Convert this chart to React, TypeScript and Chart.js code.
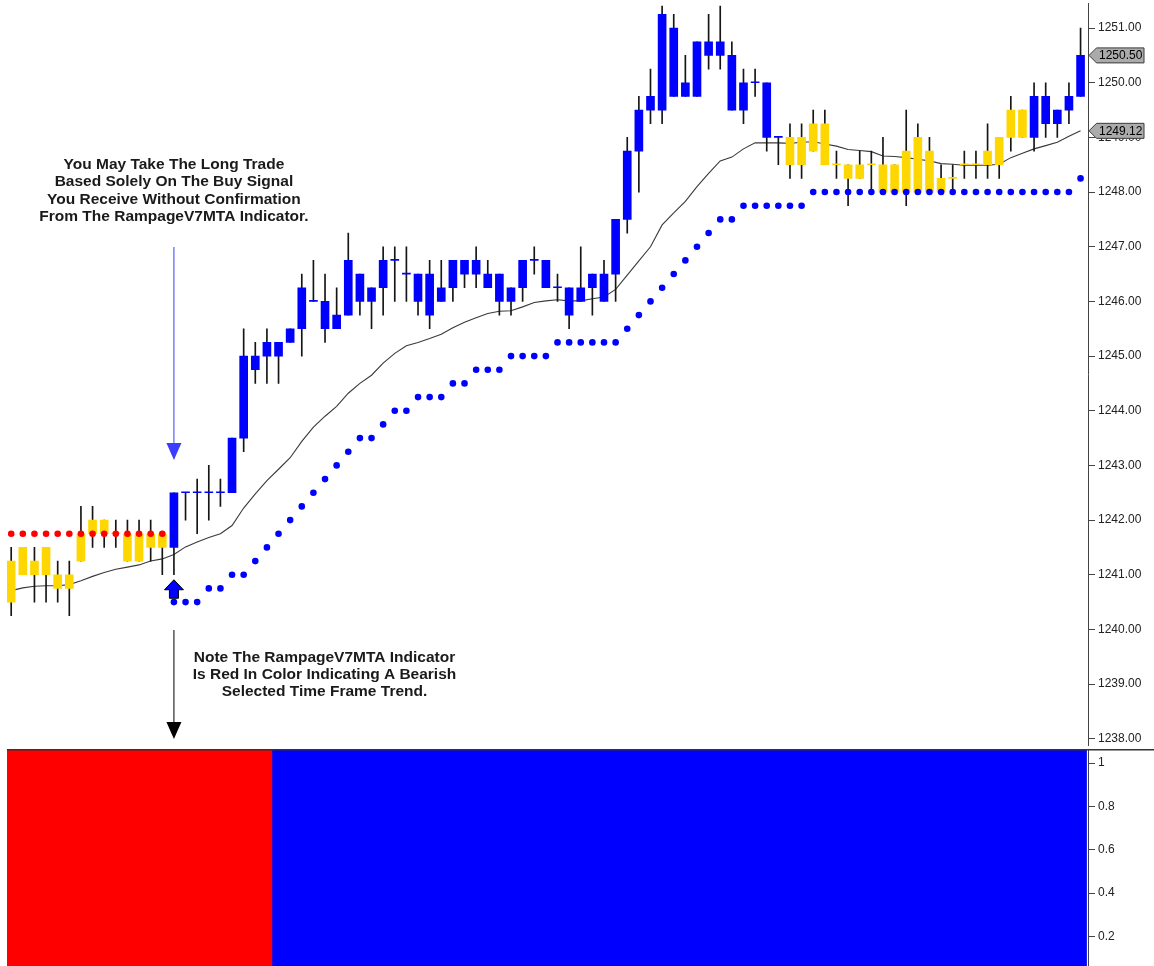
import React, { useEffect, useRef } from "react";
import { Chart, registerables } from "chart.js";

Chart.register(...registerables);

// ---------------- DATA ----------------
const candleOpen = [
  1240.5, 1241.5, 1241.0, 1241.5, 1241.0, 1240.75, 1241.25, 1241.75, 1242.0, 1241.75,
  1241.75, 1241.25, 1241.75, 1241.5, 1241.5, 1242.5, 1242.5, 1242.5, 1242.5, 1242.5,
  1243.5, 1245.0, 1245.0, 1245.25, 1245.25, 1245.5, 1246.0, 1246.0, 1245.5, 1245.75,
  1246.5, 1246.0, 1246.25, 1246.75, 1246.5, 1246.5, 1246.5, 1246.0, 1246.25, 1246.75,
  1246.5, 1246.5, 1246.5, 1246.0, 1246.25, 1246.75, 1246.75, 1246.25, 1246.25, 1246.0,
  1246.25, 1246.0, 1246.5, 1247.5, 1248.75, 1249.5, 1249.5, 1251.0, 1249.75, 1249.75,
  1250.75, 1250.5, 1250.5, 1249.5, 1250.0, 1250.0, 1249.0, 1249.0, 1248.5, 1248.75,
  1249.25, 1248.5, 1248.5, 1248.25, 1248.5, 1248.5, 1248.0, 1248.75, 1248.0, 1248.75,
  1248.0, 1248.25, 1248.5, 1248.5, 1248.5, 1248.5, 1249.0, 1249.5, 1249.0, 1249.75,
  1249.25, 1249.5, 1249.75,
];
const candleHigh = [
  1241.5, 1241.5, 1241.5, 1241.5, 1241.25, 1241.25, 1242.25, 1242.25, 1242.0, 1242.0,
  1242.0, 1242.0, 1242.0, 1241.75, 1242.5, 1242.5, 1242.75, 1243.0, 1242.75, 1243.5,
  1245.5, 1245.25, 1245.5, 1245.25, 1245.5, 1246.5, 1246.75, 1246.5, 1246.25, 1247.25,
  1246.5, 1246.25, 1247.0, 1247.0, 1247.0, 1246.5, 1246.75, 1246.75, 1246.75, 1246.75,
  1247.0, 1246.75, 1246.5, 1246.25, 1246.75, 1247.0, 1246.75, 1246.5, 1246.25, 1247.0,
  1246.5, 1246.75, 1247.5, 1249.0, 1249.75, 1250.25, 1251.4, 1251.25, 1250.5, 1250.75,
  1251.25, 1251.4, 1250.75, 1250.25, 1250.25, 1250.0, 1249.0, 1249.25, 1249.25, 1249.5,
  1249.5, 1248.75, 1248.5, 1248.75, 1248.75, 1249.0, 1248.5, 1249.5, 1249.25, 1249.0,
  1248.5, 1248.5, 1248.75, 1248.75, 1249.25, 1249.0, 1249.75, 1249.5, 1250.0, 1250.0,
  1249.5, 1250.0, 1251.0,
];
const candleLow = [
  1240.25, 1241.0, 1240.5, 1240.5, 1240.5, 1240.25, 1241.25, 1241.5, 1241.5, 1241.5,
  1241.25, 1241.25, 1241.25, 1241.0, 1241.0, 1242.0, 1241.75, 1242.0, 1242.25, 1242.5,
  1243.25, 1244.5, 1244.5, 1244.5, 1245.25, 1245.0, 1246.0, 1245.25, 1245.5, 1245.75,
  1245.75, 1245.5, 1245.75, 1246.0, 1246.0, 1245.75, 1245.5, 1246.0, 1246.0, 1246.25,
  1246.25, 1246.25, 1245.75, 1245.75, 1246.0, 1246.5, 1246.25, 1246.0, 1245.5, 1246.0,
  1245.75, 1246.0, 1246.0, 1247.25, 1248.0, 1249.25, 1249.25, 1249.75, 1249.75, 1249.75,
  1250.25, 1250.25, 1249.5, 1249.25, 1249.75, 1248.75, 1248.5, 1248.25, 1248.25, 1248.75,
  1248.5, 1248.25, 1247.75, 1248.25, 1248.0, 1248.0, 1248.0, 1247.75, 1248.0, 1248.0,
  1248.0, 1248.0, 1248.25, 1248.25, 1248.25, 1248.25, 1248.75, 1249.0, 1248.75, 1249.0,
  1249.0, 1249.25, 1249.75,
];
const candleClose = [
  1241.25, 1241.0, 1241.25, 1241.0, 1240.75, 1241.0, 1241.75, 1242.0, 1241.75, 1241.75,
  1241.25, 1241.75, 1241.5, 1241.75, 1242.5, 1242.5, 1242.5, 1242.5, 1242.5, 1243.5,
  1245.0, 1244.75, 1245.25, 1245.0, 1245.5, 1246.25, 1246.0, 1245.5, 1245.75, 1246.75,
  1246.0, 1246.25, 1246.75, 1246.75, 1246.5, 1246.0, 1245.75, 1246.25, 1246.75, 1246.5,
  1246.75, 1246.25, 1246.0, 1246.25, 1246.75, 1246.75, 1246.25, 1246.25, 1245.75, 1246.25,
  1246.5, 1246.5, 1247.5, 1248.75, 1249.5, 1249.75, 1251.25, 1249.75, 1250.0, 1250.75,
  1250.5, 1250.75, 1249.5, 1250.0, 1250.0, 1249.0, 1249.0, 1248.5, 1249.0, 1249.25,
  1248.5, 1248.5, 1248.25, 1248.5, 1248.5, 1248.0, 1248.5, 1248.0, 1249.0, 1248.0,
  1248.25, 1248.25, 1248.5, 1248.5, 1248.75, 1249.0, 1249.5, 1249.0, 1249.75, 1249.25,
  1249.5, 1249.75, 1250.5,
];
// Y = yellow (neutral) bar colour, B = blue (bullish) bar colour
const candleTone = (
  "YYYYYYYYYYYYYY" +
  "BBBBBBBBBBBBBBBBBBBBBBBBBBBBBBBBBBBBBBBBBBBBBBBBBBBBB" +
  "YYYYYYYYYYYYYYYYYYYYY" +
  "BBBBB"
).split("");

// moving average line
const maValues = [
  1240.71, 1240.76, 1240.79, 1240.8, 1240.8, 1240.82, 1240.89, 1240.97, 1241.04, 1241.1,
  1241.14, 1241.18, 1241.25, 1241.29, 1241.37, 1241.51, 1241.6, 1241.68, 1241.75, 1241.9,
  1242.22, 1242.48, 1242.72, 1242.93, 1243.14, 1243.44, 1243.7, 1243.9, 1244.08, 1244.32,
  1244.5, 1244.65, 1244.87, 1245.05, 1245.19, 1245.25, 1245.32, 1245.4, 1245.52, 1245.62,
  1245.7, 1245.78, 1245.82, 1245.83, 1245.9, 1245.98, 1246.01, 1246.03, 1246.01, 1246.01,
  1246.05, 1246.08, 1246.22, 1246.48, 1246.74, 1247.0, 1247.4, 1247.62, 1247.83, 1248.1,
  1248.34, 1248.57, 1248.64, 1248.79, 1248.9, 1248.9, 1248.9, 1248.89, 1248.91, 1248.92,
  1248.88, 1248.84, 1248.78, 1248.76, 1248.74, 1248.66, 1248.65, 1248.63, 1248.6, 1248.57,
  1248.52, 1248.51, 1248.49, 1248.49, 1248.49, 1248.51, 1248.63, 1248.71, 1248.79, 1248.85,
  1248.91, 1249.02, 1249.12,
];

// RampageV7 stop dots
const stopValues = [
  1241.75, 1241.75, 1241.75, 1241.75, 1241.75, 1241.75, 1241.75, 1241.75, 1241.75, 1241.75,
  1241.75, 1241.75, 1241.75, 1241.75, 1240.5, 1240.5, 1240.5, 1240.75, 1240.75, 1241.0,
  1241.0, 1241.25, 1241.5, 1241.75, 1242.0, 1242.25, 1242.5, 1242.75, 1243.0, 1243.25,
  1243.5, 1243.5, 1243.75, 1244.0, 1244.0, 1244.25, 1244.25, 1244.25, 1244.5, 1244.5,
  1244.75, 1244.75, 1244.75, 1245.0, 1245.0, 1245.0, 1245.0, 1245.25, 1245.25, 1245.25,
  1245.25, 1245.25, 1245.25, 1245.5, 1245.75, 1246.0, 1246.25, 1246.5, 1246.75, 1247.0,
  1247.25, 1247.5, 1247.5, 1247.75, 1247.75, 1247.75, 1247.75, 1247.75, 1247.75, 1248.0,
  1248.0, 1248.0, 1248.0, 1248.0, 1248.0, 1248.0, 1248.0, 1248.0, 1248.0, 1248.0,
  1248.0, 1248.0, 1248.0, 1248.0, 1248.0, 1248.0, 1248.0, 1248.0, 1248.0, 1248.0,
  1248.0, 1248.0, 1248.25,
];
const stopSide = ("RRRRRRRRRRRRRR" + "B".repeat(79)).split("");

// RampageV7MTA trend panel (R = bearish, B = bullish)
const mtaTrend = ("RRRRRRRRRRRRRRRRRRRRRRR" + "B".repeat(70)).split("");
const mtaLevel = 1.1;

const priceTicks = [1238, 1239, 1240, 1241, 1242, 1243, 1244, 1245, 1246, 1247, 1248, 1249, 1250, 1251];
const mtaTicks = [0.2, 0.4, 0.6, 0.8, 1];

const signalIndex = 14;
const noteTop = [
  "You May Take The Long Trade",
  "Based Solely On The Buy Signal",
  "You Receive Without Confirmation",
  "From The RampageV7MTA Indicator.",
];
const noteBottom = [
  "Note The RampageV7MTA Indicator",
  "Is Red In Color Indicating A Bearish",
  "Selected Time Frame Trend.",
];

// ---------------- LAYOUT / STYLE ----------------
const W = 1154;
const PRICE_H = 749;
const MTA_H = 217;
const X_MIN = -0.361;
const X_MAX = 92.64;
const AXIS_W = 66;
const FONT = '"Liberation Sans", Arial, Helvetica, sans-serif';
const BLUE = "#0000ff";
const YELLOW = "#ffd700";
const RED = "#ff0000";

function tickAxis(ticks: number[], fmt: (v: number) => string, min: number, max: number): any {
  return {
    type: "linear",
    position: "right",
    min,
    max,
    beginAtZero: false,
    afterBuildTicks: (s: any) => {
      s.ticks = ticks.map((v) => ({ value: v }));
    },
    afterFit: (s: any) => {
      s.width = AXIS_W;
      s.paddingTop = 0;
      s.paddingBottom = 0;
    },
    grid: { drawOnChartArea: false, drawTicks: true, tickLength: 7, color: "#444", lineWidth: 1 },
    border: { display: true, color: "#444", width: 1 },
    ticks: {
      color: "#222",
      font: { family: FONT, size: 12 },
      padding: 3,
      autoSkip: false,
      maxRotation: 0,
      callback: (v: any) => fmt(Number(v)),
    },
  };
}

const xAxis: any = { type: "linear", min: X_MIN, max: X_MAX, display: false, offset: false };

const annotationPlugin = {
  id: "annotations",
  afterDraw(chart: any) {
    const { ctx, chartArea } = chart;
    const xs = chart.scales.x;
    const ys = chart.scales.y;
    const sx = xs.getPixelForValue(signalIndex);
    ctx.save();

    // upper note
    ctx.font = `bold 15.5px ${FONT}`;
    ctx.fillStyle = "#1a1a1a";
    ctx.textAlign = "center";
    ctx.textBaseline = "alphabetic";
    noteTop.forEach((t, k) => ctx.fillText(t, sx, 168.5 + k * 17.5));

    // lower note
    noteBottom.forEach((t, k) => ctx.fillText(t, 324.5, 661.5 + k * 17.2));

    // blue pointer arrow
    ctx.strokeStyle = "#3c3cff";
    ctx.fillStyle = "#3c3cff";
    ctx.lineWidth = 1;
    ctx.beginPath();
    ctx.moveTo(sx, 247);
    ctx.lineTo(sx, 446);
    ctx.stroke();
    ctx.beginPath();
    ctx.moveTo(sx - 7.5, 443);
    ctx.lineTo(sx + 7.5, 443);
    ctx.lineTo(sx, 460);
    ctx.closePath();
    ctx.fill();

    // black pointer arrow
    ctx.strokeStyle = "#000";
    ctx.fillStyle = "#000";
    ctx.beginPath();
    ctx.moveTo(sx, 630);
    ctx.lineTo(sx, 724);
    ctx.stroke();
    ctx.beginPath();
    ctx.moveTo(sx - 7.5, 722);
    ctx.lineTo(sx + 7.5, 722);
    ctx.lineTo(sx, 739);
    ctx.closePath();
    ctx.fill();

    // buy-signal arrow under the signal bar
    const top = ys.getPixelForValue(candleLow[signalIndex]) + 5;
    ctx.beginPath();
    ctx.moveTo(sx, top);
    ctx.lineTo(sx + 9.5, top + 10);
    ctx.lineTo(sx + 4.5, top + 10);
    ctx.lineTo(sx + 4.5, top + 18.5);
    ctx.lineTo(sx - 4.5, top + 18.5);
    ctx.lineTo(sx - 4.5, top + 10);
    ctx.lineTo(sx - 9.5, top + 10);
    ctx.closePath();
    ctx.fillStyle = BLUE;
    ctx.fill();
    ctx.strokeStyle = "#000";
    ctx.lineWidth = 1;
    ctx.stroke();

    // last value markers on the price axis
    const marker = (value: number) => {
      const y = ys.getPixelForValue(value);
      const x0 = chartArea.right + 1;
      ctx.beginPath();
      ctx.moveTo(x0, y);
      ctx.lineTo(x0 + 7.5, y - 7.5);
      ctx.lineTo(1144, y - 7.5);
      ctx.lineTo(1144, y + 7.5);
      ctx.lineTo(x0 + 7.5, y + 7.5);
      ctx.closePath();
      ctx.fillStyle = "#ababab";
      ctx.fill();
      ctx.strokeStyle = "#3a3a3a";
      ctx.lineWidth = 1;
      ctx.stroke();
      ctx.fillStyle = "#000";
      ctx.font = `12px ${FONT}`;
      ctx.textAlign = "left";
      ctx.textBaseline = "middle";
      ctx.fillText(value.toFixed(2), x0 + 10, y + 0.5);
    };
    marker(candleClose[candleClose.length - 1]);
    marker(maValues[maValues.length - 1]);
    ctx.restore();
  },
};

const separatorPlugin = {
  id: "separator",
  afterDraw(chart: any) {
    const { ctx, chartArea } = chart;
    ctx.save();
    ctx.fillStyle = "#333";
    ctx.fillRect(chartArea.left, 0, W - chartArea.left, 1.5);
    ctx.restore();
  },
};

export default function App() {
  const priceRef = useRef<HTMLCanvasElement>(null);
  const mtaRef = useRef<HTMLCanvasElement>(null);

  useEffect(() => {
    document.body.style.margin = "0";
    document.body.style.overflow = "hidden";
    const idx = candleOpen.map((_, i) => i);

    const priceChart = new Chart(priceRef.current as HTMLCanvasElement, {
      type: "bar",
      data: {
        datasets: [
          {
            type: "line",
            label: "Stops",
            data: stopValues.map((v, i) => ({ x: i, y: v })),
            showLine: false,
            pointRadius: 3.3,
            pointHoverRadius: 3.3,
            pointBorderWidth: 0,
            pointBackgroundColor: stopSide.map((s) => (s === "R" ? RED : BLUE)),
            order: 0,
          } as any,
          {
            type: "bar",
            label: "Bodies",
            data: idx.map((i) => ({
              x: i,
              y: [Math.min(candleOpen[i], candleClose[i]), Math.max(candleOpen[i], candleClose[i])],
            })),
            backgroundColor: candleTone.map((t) => (t === "Y" ? YELLOW : BLUE)),
            barThickness: 8,
            grouped: false,
            minBarLength: 1,
            borderWidth: 0,
            order: 1,
          } as any,
          {
            type: "bar",
            label: "Wicks",
            data: idx.map((i) => ({ x: i, y: [candleLow[i], candleHigh[i]] })),
            backgroundColor: "#151515",
            barThickness: 1,
            grouped: false,
            borderWidth: 0,
            order: 2,
          } as any,
          {
            type: "line",
            label: "MA",
            data: maValues.map((v, i) => ({ x: i, y: v })),
            borderColor: "#3a3a3a",
            borderWidth: 1.1,
            pointRadius: 0,
            tension: 0,
            order: 3,
          } as any,
        ],
      },
      options: {
        animation: false,
        responsive: false,
        devicePixelRatio: 1,
        layout: { padding: { left: 7, right: 0, top: 0, bottom: 0 } },
        plugins: { legend: { display: false }, tooltip: { enabled: false } },
        scales: {
          x: xAxis,
          y: tickAxis(priceTicks, (v) => v.toFixed(2), 1237.873, 1251.453),
        },
      } as any,
      plugins: [annotationPlugin],
    });

    const mtaChart = new Chart(mtaRef.current as HTMLCanvasElement, {
      type: "bar",
      data: {
        datasets: [
          {
            label: "RampageV7MTA",
            data: mtaTrend.map((_, i) => ({ x: i, y: mtaLevel })),
            backgroundColor: mtaTrend.map((t) => (t === "R" ? RED : BLUE)),
            barThickness: 12,
            grouped: false,
            borderWidth: 0,
          } as any,
        ],
      },
      options: {
        animation: false,
        responsive: false,
        devicePixelRatio: 1,
        layout: { padding: { left: 7, right: 0, top: 0, bottom: 0 } },
        plugins: { legend: { display: false }, tooltip: { enabled: false } },
        scales: {
          x: xAxis,
          y: tickAxis(mtaTicks, (v) => String(Math.round(v * 10) / 10), 0.0636, 1.065),
        },
      } as any,
      plugins: [separatorPlugin],
    });

    return () => {
      priceChart.destroy();
      mtaChart.destroy();
    };
  }, []);

  return (
    <div style={{ width: W, height: PRICE_H + MTA_H, background: "#fff", overflow: "hidden" }}>
      <canvas ref={priceRef} width={W} height={PRICE_H} style={{ display: "block" }} />
      <canvas ref={mtaRef} width={W} height={MTA_H} style={{ display: "block" }} />
    </div>
  );
}
